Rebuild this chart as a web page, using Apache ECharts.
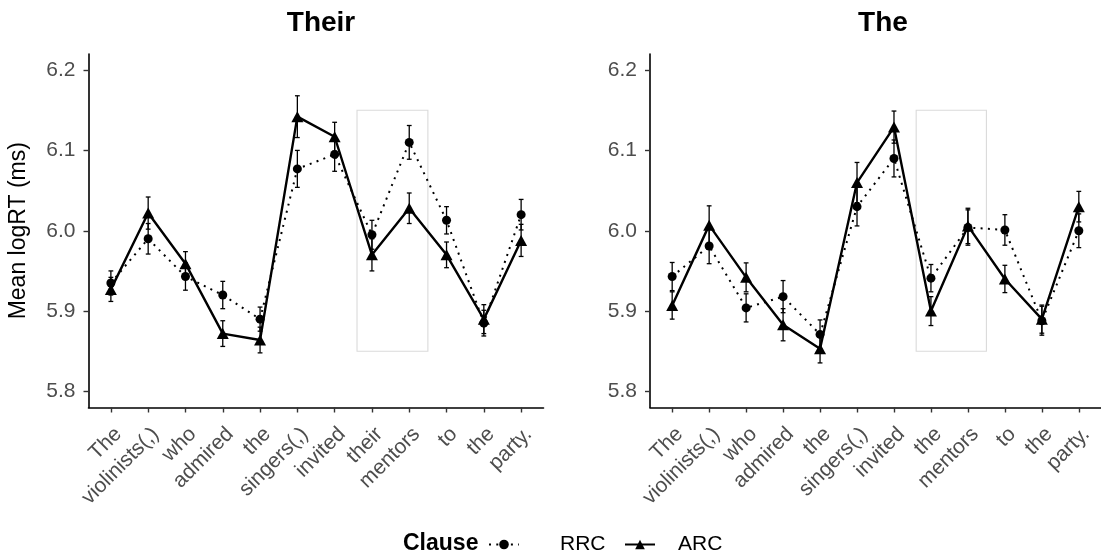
<!DOCTYPE html>
<html>
<head>
<meta charset="utf-8">
<title>Mean logRT by word and clause</title>
<script src="https://cdn.jsdelivr.net/npm/echarts@6/dist/echarts.min.js"></script>
<style>
  html, body { margin: 0; padding: 0; background: #ffffff; }
  #chart { width: 1101px; height: 554px; }
</style>
</head>
<body>
<div id="chart"></div>
<script>
// Words of the two sentence versions (x-axis categories)
const wordsTheir = ['The', 'violinists(,)', 'who', 'admired', 'the', 'singers(,)', 'invited', 'their', 'mentors', 'to', 'the', 'party.'];
const wordsThe = ['The', 'violinists(,)', 'who', 'admired', 'the', 'singers(,)', 'invited', 'the', 'mentors', 'to', 'the', 'party.'];

// Panel "Their": means and standard errors
const theirRRC = [5.935, 5.990, 5.943, 5.920, 5.890, 6.077, 6.095, 5.995, 6.110, 6.013, 5.885, 6.020];
const theirRRCse = [0.015, 0.019, 0.017, 0.017, 0.015, 0.023, 0.021, 0.018, 0.021, 0.017, 0.016, 0.019];
const theirARC = [5.927, 6.022, 5.959, 5.872, 5.864, 6.142, 6.117, 5.970, 6.028, 5.970, 5.890, 5.988];
const theirARCse = [0.015, 0.020, 0.015, 0.016, 0.016, 0.026, 0.018, 0.020, 0.019, 0.016, 0.018, 0.020];

// Panel "The": means and standard errors
const theRRC = [5.943, 5.981, 5.904, 5.918, 5.871, 6.030, 6.090, 5.941, 6.004, 6.001, 5.888, 6.000];
const theRRCse = [0.0175, 0.022, 0.0175, 0.020, 0.018, 0.024, 0.023, 0.017, 0.022, 0.019, 0.018, 0.021];
const theARC = [5.907, 6.007, 5.942, 5.883, 5.853, 6.060, 6.129, 5.900, 6.006, 5.940, 5.890, 6.030];
const theARCse = [0.017, 0.024, 0.018, 0.020, 0.0175, 0.025, 0.020, 0.018, 0.022, 0.017, 0.0175, 0.019];

// Y-axis tick labels
const yTicks = [5.8, 5.9, 6.0, 6.1, 6.2];

// Highlighted region around the critical words (x in word index, y in logRT)
const regionX = [6.6, 8.5];
const regionY = [5.85, 6.15];

const FONT = '"Liberation Sans", Arial, sans-serif';
const AXIS_GREY = '#4d4d4d';

const chart = echarts.init(document.getElementById('chart'), null, { renderer: 'canvas' });

function idx(n) { return Array.from({ length: n }, (_, i) => i); }

function pairs(values) { return values.map((v, i) => [i, v]); }

function bars(values, se) { return values.map((v, i) => [i, v - se[i], v + se[i]]); }

function errorBarSeries(name, gridIndex, values, se) {
  return {
    type: 'custom',
    name: name,
    xAxisIndex: gridIndex,
    yAxisIndex: gridIndex,
    silent: true,
    z: 3,
    data: bars(values, se),
    encode: { x: 0, y: [1, 2] },
    renderItem: function (params, api) {
      const x = api.value(0);
      const lo = api.coord([x, api.value(1)]);
      const hi = api.coord([x, api.value(2)]);
      const cap = 2.4;
      const style = { stroke: '#000000', lineWidth: 1.3 };
      return {
        type: 'group',
        children: [
          { type: 'line', shape: { x1: lo[0], y1: lo[1], x2: hi[0], y2: hi[1] }, style: style },
          { type: 'line', shape: { x1: lo[0] - cap, y1: lo[1], x2: lo[0] + cap, y2: lo[1] }, style: style },
          { type: 'line', shape: { x1: hi[0] - cap, y1: hi[1], x2: hi[0] + cap, y2: hi[1] }, style: style }
        ]
      };
    }
  };
}

function rrcSeries(gridIndex, values) {
  return {
    type: 'line',
    name: 'RRC',
    xAxisIndex: gridIndex,
    yAxisIndex: gridIndex,
    data: pairs(values),
    symbol: 'circle',
    symbolSize: 9,
    z: 4,
    itemStyle: { color: '#000000' },
    lineStyle: { color: '#000000', width: 2, type: [2, 5.3], cap: 'butt' },
    markArea: {
      silent: true,
      itemStyle: { color: 'rgba(0,0,0,0)', borderColor: '#dadada', borderWidth: 1.1 },
      data: [[{ xAxis: regionX[0], yAxis: regionY[0] }, { xAxis: regionX[1], yAxis: regionY[1] }]]
    }
  };
}

function arcSeries(gridIndex, values) {
  return {
    type: 'line',
    name: 'ARC',
    xAxisIndex: gridIndex,
    yAxisIndex: gridIndex,
    data: pairs(values),
    symbol: 'triangle',
    symbolSize: [12, 11],
    z: 5,
    itemStyle: { color: '#000000' },
    lineStyle: { color: '#000000', width: 2.4, type: 'solid' }
  };
}

function xAxis(gridIndex, words) {
  const ticks = idx(words.length);
  return {
    type: 'value',
    gridIndex: gridIndex,
    min: -0.6,
    max: words.length - 1 + 0.6,
    splitLine: { show: false },
    axisLine: { show: true, onZero: false, lineStyle: { color: '#000000', width: 1.6 } },
    axisTick: { show: true, customValues: ticks, length: 5, lineStyle: { color: '#333333', width: 1.4 } },
    axisLabel: {
      customValues: ticks,
      rotate: 45,
      align: 'right',
      verticalAlign: 'top',
      margin: 16,
      color: AXIS_GREY,
      fontSize: 21,
      fontFamily: FONT,
      formatter: function (v) { return words[Math.round(v)]; }
    }
  };
}

function yAxis(gridIndex, withName) {
  const ax = {
    type: 'value',
    gridIndex: gridIndex,
    min: 5.78,
    max: 6.22,
    splitLine: { show: false },
    axisLine: { show: true, onZero: false, lineStyle: { color: '#000000', width: 1.6 } },
    axisTick: { show: true, customValues: yTicks, length: 5, lineStyle: { color: '#333333', width: 1.4 } },
    axisLabel: {
      customValues: yTicks,
      margin: 13,
      color: AXIS_GREY,
      fontSize: 21,
      fontFamily: FONT,
      formatter: function (v) { return v.toFixed(1); }
    }
  };
  if (withName) {
    ax.name = 'Mean logRT (ms)';
    ax.nameLocation = 'middle';
    ax.nameRotate = 90;
    ax.nameGap = 58;
    ax.nameTextStyle = { color: '#000000', fontSize: 23, fontFamily: FONT };
  }
  return ax;
}

// One legend block per clause so each key/label pair can be placed on its own
function legendItem(name, left, textGap) {
  return {
    data: [name],
    left: left,
    top: 529,
    orient: 'horizontal',
    itemWidth: 30,
    itemHeight: 12,
    selectedMode: false,
    textStyle: { fontSize: 21, color: '#000000', fontFamily: FONT, padding: [0, 0, 0, textGap] }
  };
}

const option = {
  backgroundColor: '#ffffff',
  animation: false,
  textStyle: { fontFamily: FONT },
  title: [
    { text: 'Their', left: 316, top: 4, textAlign: 'center',
      textStyle: { fontSize: 28, fontWeight: 'bold', color: '#000000', fontFamily: FONT } },
    { text: 'The', left: 878, top: 4, textAlign: 'center',
      textStyle: { fontSize: 28, fontWeight: 'bold', color: '#000000', fontFamily: FONT } },
    { text: 'Clause', left: 398, top: 527,
      textStyle: { fontSize: 23, fontWeight: 'bold', color: '#000000', fontFamily: FONT } }
  ],
  legend: [
    legendItem('RRC', 483, 36),
    legendItem('ARC', 619, 18)
  ],
  grid: [
    { left: 88.5, top: 54, width: 455, height: 353.5 },
    { left: 650, top: 54, width: 456, height: 353.5 }
  ],
  xAxis: [xAxis(0, wordsTheir), xAxis(1, wordsThe)],
  yAxis: [yAxis(0, true), yAxis(1, false)],
  series: [
    errorBarSeries('RRC SE', 0, theirRRC, theirRRCse),
    errorBarSeries('ARC SE', 0, theirARC, theirARCse),
    rrcSeries(0, theirRRC),
    arcSeries(0, theirARC),
    errorBarSeries('RRC SE', 1, theRRC, theRRCse),
    errorBarSeries('ARC SE', 1, theARC, theARCse),
    rrcSeries(1, theRRC),
    arcSeries(1, theARC)
  ]
};

chart.setOption(option);
</script>
</body>
</html>
